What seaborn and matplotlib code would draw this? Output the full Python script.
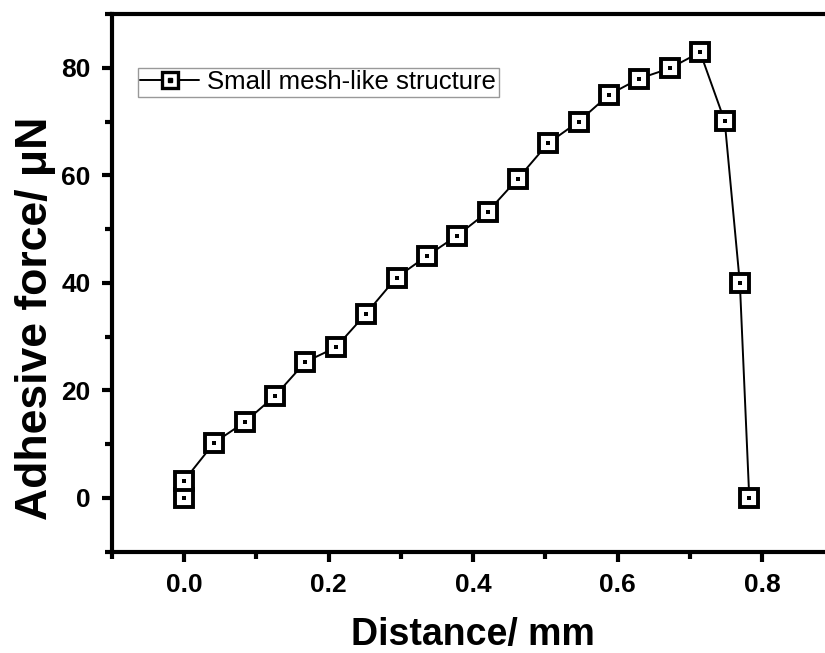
import numpy as np
import pandas as pd
import matplotlib
matplotlib.use("Agg")
import matplotlib.pyplot as plt
import seaborn as sns
from matplotlib.ticker import MultipleLocator
from matplotlib.lines import Line2D

# data
distance = [0.0, 0.0, 0.042, 0.084, 0.126, 0.168, 0.210, 0.252, 0.294, 0.336, 0.378,
            0.420, 0.462, 0.504, 0.546, 0.588, 0.630, 0.672, 0.714, 0.748, 0.769, 0.782]
force = [0.0, 3.2, 10.3, 14.1, 19.0, 25.3, 28.0, 34.3, 41.0, 45.0, 48.8,
         53.2, 59.4, 66.0, 70.0, 75.0, 78.0, 79.9, 82.9, 70.1, 39.9, 0.0]
series_name = "Small mesh-like structure"
x_ticks = [0.0, 0.2, 0.4, 0.6, 0.8]
y_ticks = [0, 20, 40, 60, 80]

df = pd.DataFrame({"Distance": distance, "Force": force})

sns.set_style("ticks")
plt.rcParams['font.family'] = ['Liberation Sans', 'DejaVu Sans']
plt.rcParams['text.color'] = 'black'
plt.rcParams['axes.labelcolor'] = 'black'
plt.rcParams['xtick.color'] = 'black'
plt.rcParams['ytick.color'] = 'black'

fig = plt.figure(figsize=(8.25, 6.53), dpi=100)
ax = fig.add_axes([0.1354, 0.1551, 0.8762, 0.8234])

# connecting line + open squares
sns.lineplot(data=df, x="Distance", y="Force", estimator=None, sort=False, ax=ax,
             color="black", linewidth=1.4, marker="s", markersize=12.5,
             markerfacecolor="white", markeredgecolor="black", markeredgewidth=2.8)
# small dot in the middle of every square
sns.scatterplot(data=df, x="Distance", y="Force", ax=ax, marker="s", s=5,
                color="black", linewidth=0, zorder=5)

ax.set_xlim(-0.1, 0.9)
ax.set_ylim(-10, 90)
ax.set_xticks(x_ticks)
ax.set_yticks(y_ticks)
ax.xaxis.set_minor_locator(MultipleLocator(0.1))
ax.yaxis.set_minor_locator(MultipleLocator(10))
ax.set_xticklabels([f"{v:.1f}" for v in x_ticks], fontsize=19, fontweight="bold")
ax.set_yticklabels([str(v) for v in y_ticks], fontsize=19, fontweight="bold")
ax.tick_params(which="major", direction="out", length=7, width=3, pad=8, top=False, right=False)
ax.tick_params(which="minor", direction="out", length=5, width=3, top=False, right=False)

for side in ["left", "bottom", "top"]:
    ax.spines[side].set_linewidth(3)
    ax.spines[side].set_color("black")
ax.spines["right"].set_visible(False)

ax.set_xlabel("Distance/ mm", fontsize=27, fontweight="bold")
ax.set_ylabel("Adhesive force/ μN", fontsize=32, fontweight="bold")
ax.xaxis.set_label_coords(0.5, -0.122)
ax.yaxis.set_label_coords(-0.077, 0.435)

# legend: line + square + dot
h_box = Line2D([], [], color="black", linewidth=1.4, marker="s", markersize=12,
               markerfacecolor="white", markeredgecolor="black", markeredgewidth=2.4)
h_dot = Line2D([], [], linestyle="none", marker="s", markersize=2.2, color="black")
leg = ax.legend([(h_box, h_dot)], [series_name], loc="upper left",
                bbox_to_anchor=(0.036, 0.9), fontsize=18.5, frameon=True, fancybox=False,
                edgecolor="gray", handlelength=2.3, handletextpad=0.3, borderpad=0.1,
                borderaxespad=0)
leg.get_frame().set_linewidth(1.0)

plt.savefig("out.png", dpi=100)
